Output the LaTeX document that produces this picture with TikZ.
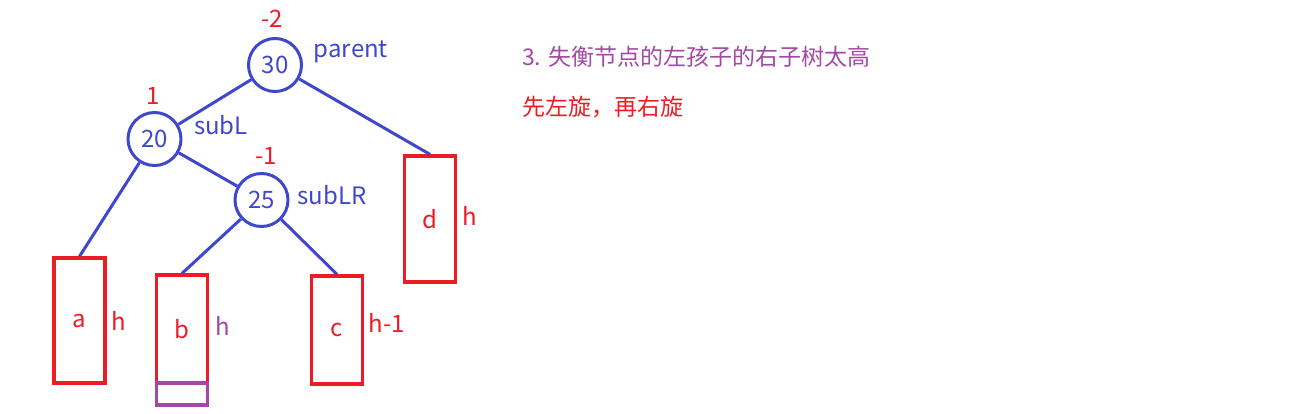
\documentclass[tikz,border=0pt]{standalone}
\usepackage{fontspec}
\setmainfont{Noto Sans CJK SC}
\usetikzlibrary{positioning}
\definecolor{treeblue}{RGB}{63,72,204}
\definecolor{hred}{RGB}{237,28,36}
\definecolor{hpurple}{RGB}{163,73,164}

\begin{document}
\begin{tikzpicture}[x=1pt,y=-1pt,
    every node/.style={font=\fontsize{24}{28}\selectfont},
    key/.style={draw=treeblue, text=treeblue, shape=circle, line width=3pt, minimum size=53pt, inner sep=0pt},
    subtree/.style={draw=hred, text=hred, line width=3.2pt, minimum width=51pt, minimum height=125pt, inner sep=0pt},
    lbl/.style={inner sep=0pt},
    link/.style={draw=treeblue, line width=3pt}]
      \useasboundingbox (0,0) rectangle (1295,414);

      \node[key] (n30) at (275, 65)  {30};
      \node[key] (n20) at (154.5, 139)  {20};
      \node[key] (n25) at (261.5, 200)  {25};

      \node[lbl, text=hred] (bf30) at (272, 19) {-2};
      \node[lbl, text=hred] (bf20) at (153, 96) {1};
      \node[lbl, text=hred] (bf25) at (266, 156) {-1};
      \node[lbl, text=treeblue] (parent) at (351, 52) {parent};
      \node[lbl, text=treeblue] (subL) at (221, 125) {subL};
      \node[lbl, text=treeblue] (subLR) at (332, 195) {subLR};

      \node[subtree] (a) at (79.5, 320.5) {a};
      \node[subtree, minimum height=108pt] (b) at (182, 329) {b};
      \node[subtree, minimum height=108pt] (c) at (337, 330) {c};
      \node[subtree, minimum height=126pt] (d) at (430, 219) {d};
      \node[draw=hpurple, line width=3.2pt, minimum width=51pt, minimum height=22pt, inner sep=0pt] (bx) at (182, 394) {};

      \node[lbl, text=hred] (ha) at (119, 321) {h};
      \node[lbl, text=hpurple] (hb) at (223, 326) {h};
      \node[lbl, text=hred] (hc) at (387, 323) {h-1};
      \node[lbl, text=hred] (hd) at (470, 216) {h};

      \node[lbl, text=hpurple, anchor=west, font=\fontsize{23}{27}\selectfont] (case) at (522, 57) {3. 失衡节点的左孩子的右子树太高};
      \node[lbl, text=hred, anchor=west, font=\fontsize{23}{27}\selectfont] (fix) at (522, 107) {先左旋，再右旋};

      \draw[link] (n30) -- (n20);
      \draw[link] (n30) -- (d.north);
      \draw[link] (n20) -- (a.north);
      \draw[link] (n20) -- (n25);
      \draw[link] (n25) -- (b.north);
      \draw[link] (n25) -- (c.north);
    \end{tikzpicture}
\end{document}
